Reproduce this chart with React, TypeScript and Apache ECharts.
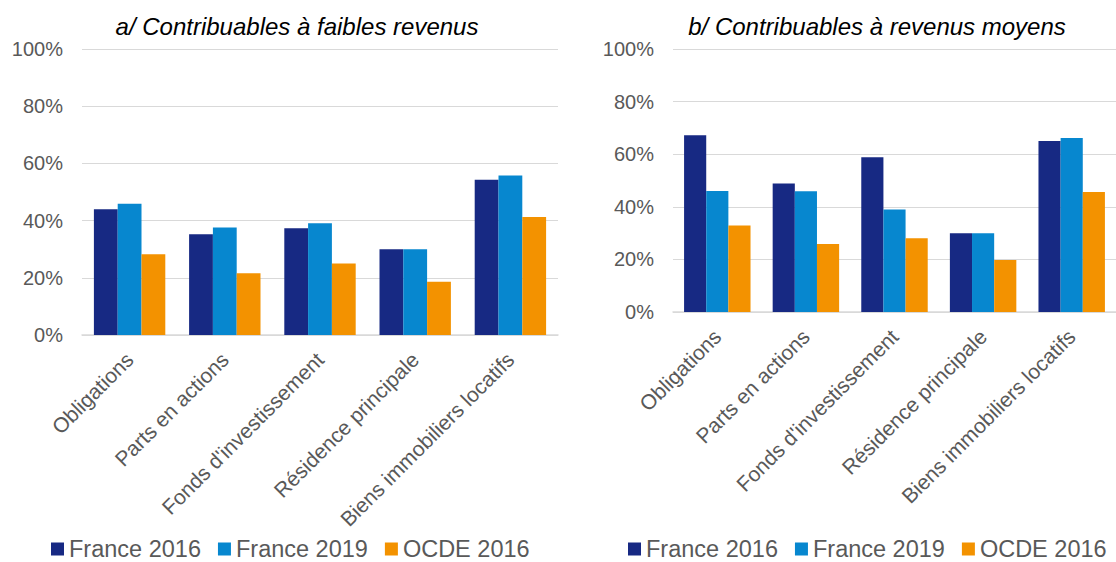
import React, { useEffect, useRef } from "react";
import * as echarts from "echarts";

const categories = [
  "Obligations",
  "Parts en actions",
  "Fonds d'investissement",
  "Résidence principale",
  "Biens immobiliers locatifs",
];
const seriesNames = ["France 2016", "France 2019", "OCDE 2016"];
const colors = ["#172983", "#0787cf", "#f39200"];

// a/ Contribuables à faibles revenus
const lowFrance2016 = [44.0, 35.2, 37.3, 30.0, 54.3];
const lowFrance2019 = [45.9, 37.6, 39.1, 30.0, 55.8];
const lowOCDE2016 = [28.2, 21.6, 25.0, 18.6, 41.3];

// b/ Contribuables à revenus moyens
const midFrance2016 = [67.2, 48.9, 58.8, 29.9, 65.0];
const midFrance2019 = [46.0, 45.9, 39.0, 29.9, 66.2];
const midOCDE2016 = [32.9, 25.9, 28.0, 19.8, 45.6];

const yTicks = [0, 20, 40, 60, 80, 100];

const titles = ["a/ Contribuables à faibles revenus", "b/ Contribuables à revenus moyens"];

const FONT = "'Liberation Sans', Arial, Helvetica, sans-serif";
const GRAY = "#595959";
const GRID = "#d9d9d9";

export default function App() {
  const ref = useRef<HTMLDivElement>(null);
  useEffect(() => {
    if (!ref.current) return;
    const chart = echarts.init(ref.current, undefined, { renderer: "svg" });
    const grids = [
      { left: 82, top: 49, width: 476, height: 286 },
      { left: 673, top: 49, width: 446, height: 263 },
    ];
    const xAxes = grids.map((_, i) => ({
      type: "category" as const,
      gridIndex: i,
      data: categories,
      axisTick: { show: false },
      axisLine: { lineStyle: { color: GRID, width: 1.5 } },
      axisLabel: {
        rotate: 45,
        interval: 0,
        margin: 21,
        color: GRAY,
        fontSize: 21,
        fontFamily: FONT,
      },
    }));
    const yAxes = grids.map((_, i) => ({
      type: "value" as const,
      gridIndex: i,
      min: yTicks[0],
      max: yTicks[yTicks.length - 1],
      interval: yTicks[1] - yTicks[0],
      axisLine: { show: false },
      axisTick: { show: false },
      splitLine: { lineStyle: { color: GRID, width: 1 } },
      axisLabel: {
        formatter: "{value}%",
        margin: 19,
        color: GRAY,
        fontSize: 20,
        fontFamily: FONT,
      },
    }));
    const data = [
      [lowFrance2016, lowFrance2019, lowOCDE2016],
      [midFrance2016, midFrance2019, midOCDE2016],
    ];
    const series: any[] = [];
    data.forEach((group, gi) => {
      group.forEach((vals, si) => {
        series.push({
          type: "bar",
          name: seriesNames[si],
          xAxisIndex: gi,
          yAxisIndex: gi,
          data: vals,
          barGap: "0%",
          barCategoryGap: "25%",
          itemStyle: { color: colors[si] },
        });
      });
    });
    const legendCommon = {
      data: seriesNames,
      icon: "rect",
      itemWidth: 13,
      itemHeight: 13,
      itemGap: 17,
      textStyle: { color: GRAY, fontSize: 23.5, fontFamily: FONT },
      selectedMode: false,
      padding: 0,
    };
    const titleStyle = {
      fontStyle: "italic" as const,
      fontWeight: "normal" as const,
      fontSize: 24,
      color: "#000",
      fontFamily: FONT,
    };
    chart.setOption({
      animation: false,
      color: colors,
      title: [
        { text: titles[0], left: 292, top: 9, textAlign: "center", textStyle: titleStyle },
        { text: titles[1], left: 872, top: 9, textAlign: "center", textStyle: titleStyle },
      ],
      legend: [
        { ...legendCommon, left: 51, top: 537 },
        { ...legendCommon, left: 628, top: 537 },
      ],
      grid: grids,
      xAxis: xAxes,
      yAxis: yAxes,
      series,
    });
    return () => chart.dispose();
  }, []);
  return (
    <div
      ref={ref}
      style={{ position: "fixed", left: 0, top: 0, width: 1116, height: 562, background: "#fff" }}
    />
  );
}
